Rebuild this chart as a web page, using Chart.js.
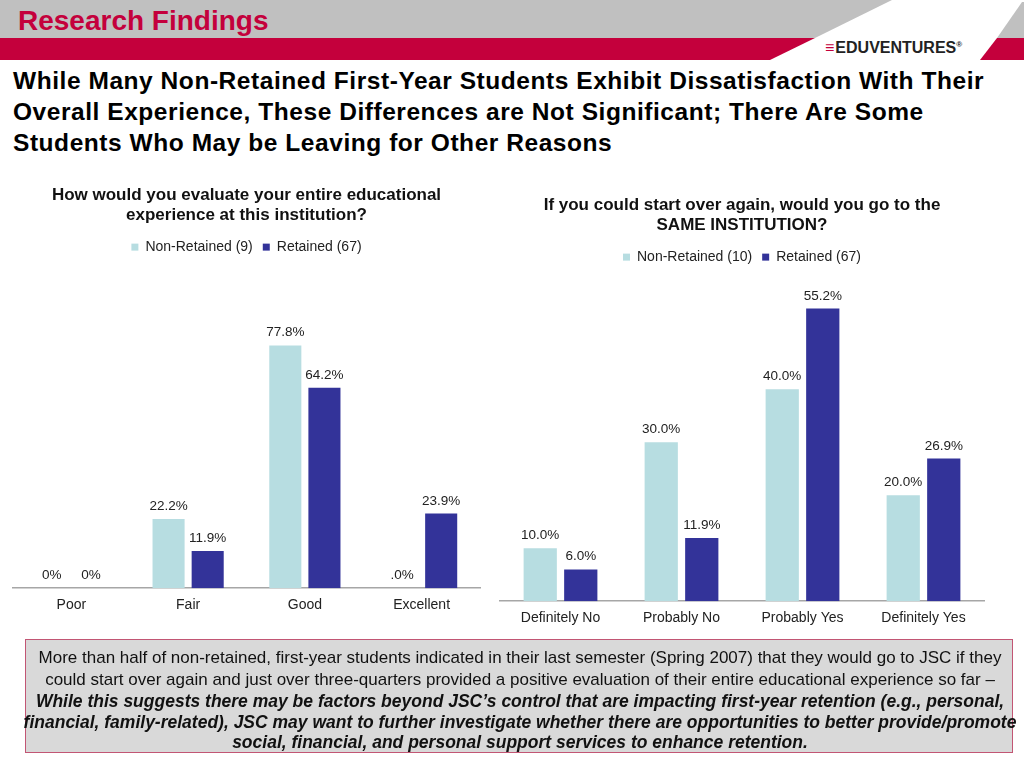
<!DOCTYPE html>
<html>
<head>
<meta charset="utf-8">
<script src="https://cdn.jsdelivr.net/npm/chart.js@4.4.1/dist/chart.umd.min.js"></script>
<style>
  html, body { margin: 0; padding: 0; background: #fff; }
  body { width: 1024px; height: 768px; position: relative; overflow: hidden; font-family: Arial, 'Liberation Sans', sans-serif; }
  #header { position: absolute; left: 0; top: 0; }
  #section { position: absolute; left: 18px; top: 5px; font-size: 28px; font-weight: bold; color: #c4003c; }
  #logo { position: absolute; left: 825px; top: 39px; font-size: 16px; font-weight: bold; color: #222; letter-spacing: 0px; }
  #logo span { color: #c4003c; margin-right: 1px; }
  #title { position: absolute; left: 13px; top: 65px; font-size: 24.5px; font-weight: bold; color: #000; line-height: 31px; letter-spacing: 0.55px; white-space: nowrap; }
  .wrap { position: absolute; }
  #box { position: absolute; left: 25px; top: 639px; width: 988px; height: 114px; background: #d9d9d9; border: 1.5px solid #c25674; box-sizing: border-box; }
  #box div { position: absolute; left: -10px; width: 1008px; text-align: center; white-space: nowrap; font-size: 17px; color: #111; }
  #box .em { font-weight: bold; font-style: italic; font-size: 17.5px; }
</style>
</head>
<body>
<svg id="header" width="1024" height="64">
  <polygon points="0,0 892,0 815,38 0,38" fill="#c0c0c0"/>
  <polygon points="0,38 815,38 770,60 0,60" fill="#c4003c"/>
  <polygon points="1022,2 1024,2 1024,38 997,38" fill="#c0c0c0"/>
  <polygon points="997,38 1024,38 1024,60 980,60" fill="#c4003c"/>
</svg>
<div id="section">Research Findings</div>
<div id="logo"><span>&#8801;</span>EDUVENTURES<sup style="font-size:8px">&reg;</sup></div>
<div id="title">While Many Non-Retained First-Year Students Exhibit Dissatisfaction With Their<br>Overall Experience, These Differences are Not Significant; There Are Some<br>Students Who May be Leaving for Other Reasons</div>

<div class="wrap" style="left:3px;top:175px;width:492px;height:458px;"><canvas id="evalChart"></canvas></div>
<div class="wrap" style="left:490px;top:175px;width:534px;height:469px;"><canvas id="againChart"></canvas></div>

<div id="box">
  <div style="top:8px;">More than half of non-retained, first-year students indicated in their last semester (Spring 2007) that they would go to JSC if they</div>
  <div style="top:30px;">could start over again and just over three-quarters provided a positive evaluation of their entire educational experience so far &ndash;</div>
  <div class="em" style="top:51px;">While this suggests there may be factors beyond JSC&rsquo;s control that are impacting first-year retention (e.g., personal,</div>
  <div class="em" style="top:72px;">financial, family-related), JSC may want to further investigate whether there are opportunities to better provide/promote</div>
  <div class="em" style="top:92px;">social, financial, and personal support services to enhance retention.</div>
</div>

<script>
const evalTitle = ['How would you evaluate your entire educational', 'experience at this institution?'];
const evalCategories = ['Poor', 'Fair', 'Good', 'Excellent'];
const evalSeriesNames = ['Non-Retained (9)', 'Retained (67)'];
const evalNonRetained = [0, 22.2, 77.8, 0];
const evalRetained = [0, 11.9, 64.2, 23.9];
const evalNonRetainedLabels = ['0%', '22.2%', '77.8%', '.0%'];
const evalRetainedLabels = ['0%', '11.9%', '64.2%', '23.9%'];

const againTitle = ['If you could start over again, would you go to the', 'SAME INSTITUTION?'];
const againCategories = ['Definitely No', 'Probably No', 'Probably Yes', 'Definitely Yes'];
const againSeriesNames = ['Non-Retained (10)', 'Retained (67)'];
const againNonRetained = [10.0, 30.0, 40.0, 20.0];
const againRetained = [6.0, 11.9, 55.2, 26.9];
const againNonRetainedLabels = ['10.0%', '30.0%', '40.0%', '20.0%'];
const againRetainedLabels = ['6.0%', '11.9%', '55.2%', '26.9%'];

const LIGHT = '#b7dde1';
const DARK = '#333399';
const FONT = "Arial, 'Liberation Sans', sans-serif";

// draws the value text above each bar
const barLabels = {
    id: 'barLabels',
    afterDatasetsDraw(chart) {
        const ctx = chart.ctx;
        ctx.save();
        ctx.font = '13.5px ' + FONT;
        ctx.fillStyle = '#222';
        ctx.textAlign = 'center';
        ctx.textBaseline = 'bottom';
        chart.data.datasets.forEach((ds, i) => {
            const meta = chart.getDatasetMeta(i);
            meta.data.forEach((bar, j) => {
                ctx.fillText(ds.valueLabels[j], bar.x, bar.y - 6);
            });
        });
        ctx.restore();
    }
};

// extra room under the legend
function legendGap(extra) {
    return {
        id: 'legendGap',
        beforeInit(chart) {
            const fit = chart.legend.fit;
            chart.legend.fit = function () {
                fit.bind(chart.legend)();
                this.height += extra;
            };
        }
    };
}

function makeChart(id, title, cats, names, a, b, aLabels, bLabels, yMax, pad, titlePad, gap) {
    return new Chart(document.getElementById(id), {
        type: 'bar',
        data: {
            labels: cats,
            datasets: [
                { label: names[0], data: a, valueLabels: aLabels, backgroundColor: LIGHT, barPercentage: 0.82, categoryPercentage: 0.67 },
                { label: names[1], data: b, valueLabels: bLabels, backgroundColor: DARK, barPercentage: 0.82, categoryPercentage: 0.67 }
            ]
        },
        options: {
            responsive: true,
            maintainAspectRatio: false,
            animation: false,
            layout: { padding: pad },
            plugins: {
                title: { display: true, text: title, color: '#111', font: { family: FONT, size: 17, weight: 'bold', lineHeight: 1.18 }, padding: titlePad },
                legend: { display: true, labels: { color: '#222', font: { family: FONT, size: 14 }, boxWidth: 7, boxHeight: 7, padding: 10 } },
                tooltip: { enabled: false }
            },
            scales: {
                x: {
                    grid: { display: false, drawTicks: false },
                    border: { display: true, color: '#a6a6a6', width: 1.5 },
                    ticks: { color: '#222', font: { family: FONT, size: 14 }, padding: 9 }
                },
                y: { display: false, min: 0, max: yMax }
            }
        },
        plugins: [barLabels, legendGap(gap)]
    });
}

makeChart('evalChart', evalTitle, evalCategories, evalSeriesNames, evalNonRetained, evalRetained,
    evalNonRetainedLabels, evalRetainedLabels, 100, { left: 10, right: 15, top: 0, bottom: 10 }, { top: 10, bottom: 5 }, 12);
makeChart('againChart', againTitle, againCategories, againSeriesNames, againNonRetained, againRetained,
    againNonRetainedLabels, againRetainedLabels, 60, { left: 10, right: 40, top: 0, bottom: 8 }, { top: 20, bottom: 5 }, 9);
</script>
</body>
</html>
